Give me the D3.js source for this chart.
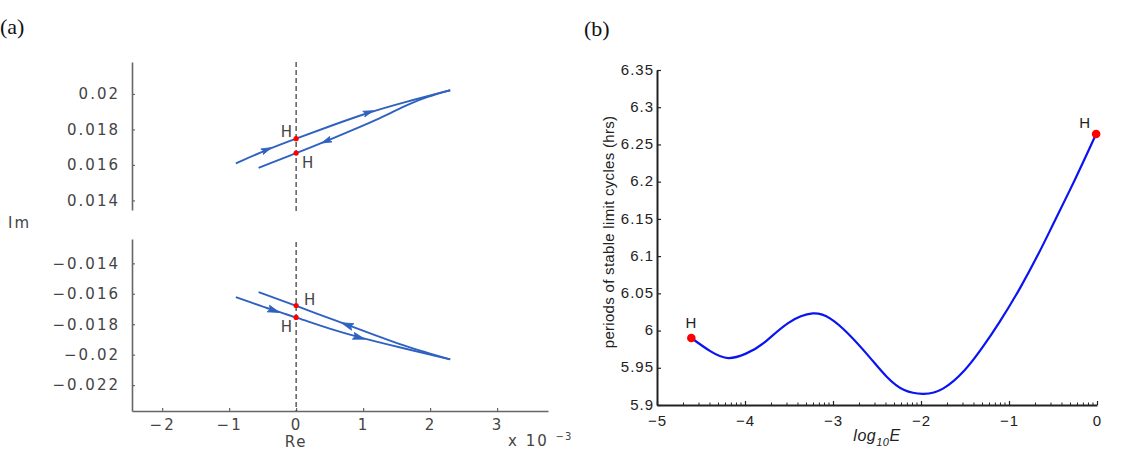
<!DOCTYPE html>
<html>
<head>
<meta charset="utf-8">
<script src="https://cdn.jsdelivr.net/npm/d3@7"></script>
<style>
  html, body { margin: 0; padding: 0; background: #fff; }
  svg { display: block; }
  .pa text { font-family: "DejaVu Sans", sans-serif; font-size: 15px; letter-spacing: 2px; fill: #444; }
  .pb text { font-family: "Liberation Sans", Arial, sans-serif; font-size: 15px; letter-spacing: 1px; fill: #222; }
</style>
</head>
<body>
<svg id="chart" width="1128" height="452"></svg>
<script>
// ---------------- DATA ----------------
// Panel (a): eigenvalue paths (Re in units of 1e-3)
const topFwdRe  = [-0.90, -0.44, 0.00, 0.50, 1.08, 1.62, 2.30];
const topFwdIm  = [0.01609, 0.01686, 0.01748, 0.01818, 0.01896, 0.01954, 0.02021];
const topBackRe = [2.30, 1.95, 1.70, 1.45, 1.20, 0.90, 0.39, 0.00, -0.56];
const topBackIm = [0.02021, 0.01983, 0.01945, 0.01900, 0.01854, 0.01805, 0.01725, 0.01667, 0.01584];
const topHopfRe = [0, 0];
const topHopfIm = [0.01748, 0.01667];
const topArrowFwdRe  = [-0.44, 1.08];
const topArrowBackRe = [0.45];

const botFwdRe  = [-0.90, -0.33, 0.00, 0.50, 0.94, 1.62, 2.30];
const botFwdIm  = [-0.01622, -0.01710, -0.01755, -0.01830, -0.01887, -0.01960, -0.02031];
const botBackRe = [2.30, 1.90, 1.62, 1.20, 0.76, 0.00, -0.56];
const botBackIm = [-0.02031, -0.01980, -0.01943, -0.01875, -0.01804, -0.01679, -0.01589];
const botHopfRe = [0, 0];
const botHopfIm = [-0.01677, -0.01755];
const botArrowFwdRe  = [-0.33, 0.94];
const botArrowBackRe = [0.76];

const reTicks     = [-2, -1, 0, 1, 2, 3];
const topImTicks  = [0.014, 0.016, 0.018, 0.02];
const botImTicks  = [-0.022, -0.02, -0.018, -0.016, -0.014];

// Panel (b): period of stable limit cycles vs log10 E
const logE   = [-4.61, -4.39, -4.19, -3.99, -3.79, -3.51, -3.23, -3.03, -2.83, -2.59, -2.39, -2.19, -1.97, -1.75, -1.51, -1.31, -1.11, -0.87, -0.67, -0.51, -0.25, -0.01];
const period = [5.990, 5.972, 5.963, 5.969, 5.983, 6.010, 6.023, 6.016, 5.996, 5.965, 5.938, 5.920, 5.915, 5.922, 5.946, 5.976, 6.011, 6.058, 6.102, 6.140, 6.203, 6.264];
const hopfLogE   = [-4.61, -0.01];
const hopfPeriod = [5.990, 6.264];
const logETicks   = [-5, -4, -3, -2, -1, 0];
const periodTicks = [5.9, 5.95, 6, 6.05, 6.1, 6.15, 6.2, 6.25, 6.3, 6.35];

// ---------------- DRAW ----------------
const svg = d3.select("#chart");
svg.append("rect").attr("width", 1128).attr("height", 452).attr("fill", "#fff");

const minus = s => String(s).replace("-", "\u2212");

// Panel labels
svg.append("text").attr("x", 0).attr("y", 34).text("(a)")
  .style("font-family", "'Liberation Serif', 'Times New Roman', serif").style("font-size", "22px").attr("fill", "#111");
svg.append("text").attr("x", 584).attr("y", 36).text("(b)")
  .style("font-family", "'Liberation Serif', 'Times New Roman', serif").style("font-size", "22px").attr("fill", "#111");

// ---------- Panel (a) ----------
const pa = svg.append("g").attr("class", "pa");
const lineColA = "#2f62c0";
const axisColA = "#666";

const xRe = d3.scaleLinear().domain([-2.45, 3.76]).range([132, 548]);
const yTop = d3.scaleLinear().domain([0.01346, 0.0218]).range([210, 62]);
const yBot = d3.scaleLinear().domain([-0.0237, -0.0124]).range([411, 239]);

function styleAxis(g, col) {
  g.select(".domain").attr("stroke", col).attr("stroke-width", 1.6);
  g.selectAll(".tick line").attr("stroke", col).attr("stroke-width", 1.2);
  g.selectAll(".tick text").attr("fill", null);
}

const gTopY = pa.append("g").attr("transform", `translate(${xRe.range()[0]},0)`)
  .call(d3.axisLeft(yTop).tickValues(topImTicks).tickSize(-3).tickSizeOuter(0).tickPadding(12)
        .tickFormat(d => minus(d3.format("")(+d.toFixed(3)))));
styleAxis(gTopY, axisColA);

const gBotY = pa.append("g").attr("transform", `translate(${xRe.range()[0]},0)`)
  .call(d3.axisLeft(yBot).tickValues(botImTicks).tickSize(-3).tickSizeOuter(0).tickPadding(12)
        .tickFormat(d => minus(d3.format("")(+d.toFixed(3)))));
styleAxis(gBotY, axisColA);

const gBotX = pa.append("g").attr("transform", `translate(0,${yBot.range()[0]})`)
  .call(d3.axisBottom(xRe).tickValues(reTicks).tickSize(-3).tickSizeOuter(0).tickPadding(8)
        .tickFormat(d => minus(d)));
styleAxis(gBotX, axisColA);

// dashed Re = 0 lines
pa.append("line").attr("x1", xRe(0)).attr("x2", xRe(0)).attr("y1", 62).attr("y2", 214)
  .attr("stroke", "#333").attr("stroke-width", 1.2).attr("stroke-dasharray", "5,3");
pa.append("line").attr("x1", xRe(0)).attr("x2", xRe(0)).attr("y1", 242).attr("y2", 411)
  .attr("stroke", "#333").attr("stroke-width", 1.2).attr("stroke-dasharray", "5,3");

const lineGen = (xs, ys) => d3.line().curve(d3.curveBasis)
  .x(d => xs(d[0])).y(d => ys(d[1]));

function drawBranch(res, ims, ys) {
  const pts = res.map((r, i) => [r, ims[i]]);
  pa.append("path").attr("d", lineGen(xRe, ys)(pts))
    .attr("fill", "none").attr("stroke", lineColA).attr("stroke-width", 1.9);
}
function drawArrows(res, ims, ys, arrowRes, len, wid) {
  arrowRes.forEach(r => {
    for (let i = 0; i < res.length - 1; i++) {
      const a = res[i], b = res[i + 1];
      if ((r - a) * (r - b) <= 0 && a !== b) {
        const t = (r - a) / (b - a);
        const x0 = xRe(a), y0 = ys(ims[i]), x1 = xRe(b), y1 = ys(ims[i + 1]);
        const px = x0 + t * (x1 - x0), py = y0 + t * (y1 - y0);
        const ang = Math.atan2(y1 - y0, x1 - x0) * 180 / Math.PI;
        pa.append("path")
          .attr("d", `M${len/2},0 L${-len/2},${-wid/2} L${-len/2 + 2},0 L${-len/2},${wid/2} Z`)
          .attr("transform", `translate(${px},${py}) rotate(${ang})`)
          .attr("fill", lineColA).attr("stroke", lineColA).attr("stroke-width", 0.8);
        break;
      }
    }
  });
}

drawBranch(topFwdRe, topFwdIm, yTop);
drawBranch(topBackRe, topBackIm, yTop);
drawArrows(topFwdRe, topFwdIm, yTop, topArrowFwdRe, 10, 6);
drawArrows(topBackRe, topBackIm, yTop, topArrowBackRe, 10, 6);

drawBranch(botFwdRe, botFwdIm, yBot);
drawBranch(botBackRe, botBackIm, yBot);
drawArrows(botFwdRe, botFwdIm, yBot, botArrowFwdRe, 12, 7);
drawArrows(botBackRe, botBackIm, yBot, botArrowBackRe, 12, 7);

// Hopf points
topHopfRe.forEach((r, i) => pa.append("circle").attr("cx", xRe(r)).attr("cy", yTop(topHopfIm[i])).attr("r", 2.6).attr("fill", "#f00"));
botHopfRe.forEach((r, i) => pa.append("circle").attr("cx", xRe(r)).attr("cy", yBot(botHopfIm[i])).attr("r", 2.6).attr("fill", "#f00"));

// H labels (a)
pa.append("text").attr("x", xRe(0) - 2).attr("y", yTop(topHopfIm[0]) - 2).attr("text-anchor", "end").text("H");
pa.append("text").attr("x", xRe(0) + 6).attr("y", yTop(topHopfIm[1]) + 15).text("H");
pa.append("text").attr("x", xRe(0) + 8).attr("y", yBot(botHopfIm[0]) - 1).text("H");
pa.append("text").attr("x", xRe(0) - 2).attr("y", yBot(botHopfIm[1]) + 15).attr("text-anchor", "end").text("H");

// axis titles (a)
pa.append("text").attr("x", 8).attr("y", 228).text("Im");
pa.append("text").attr("x", xRe(0)).attr("y", 447).attr("text-anchor", "middle").text("Re");
const mult = pa.append("text").attr("x", 508).attr("y", 446);
mult.append("tspan").text("x 10 ");
mult.append("tspan").attr("dy", -6).style("font-size", "10px").style("letter-spacing", "1px").text("\u22123");

// ---------- Panel (b) ----------
const pb = svg.append("g").attr("class", "pb");
const xE = d3.scaleLinear().domain([-5, 0]).range([657, 1097]);
const yP = d3.scaleLinear().domain([5.9, 6.35]).range([405, 70]);

const gBY = pb.append("g").attr("transform", `translate(${xE.range()[0]},0)`)
  .call(d3.axisLeft(yP).tickValues(periodTicks).tickSize(-4).tickSizeOuter(0).tickPadding(3)
        .tickFormat(d => String(+d.toFixed(2))));
styleAxis(gBY, "#222");
gBY.select(".domain").attr("stroke-width", 2);
gBY.selectAll(".tick text").attr("dy", "0.28em");

const gBX = pb.append("g").attr("transform", `translate(0,${yP.range()[0]})`)
  .call(d3.axisBottom(xE).tickValues(logETicks).tickSize(-4).tickSizeOuter(0).tickPadding(10)
        .tickFormat(d => minus(d)));
styleAxis(gBX, "#222");
gBX.select(".domain").attr("stroke-width", 2);

// minor log ticks
const minorTicks = [];
logETicks.slice(0, -1).forEach(d => { for (let k = 2; k <= 9; k++) minorTicks.push(d + Math.log10(k)); });
pb.append("g").selectAll("line").data(minorTicks).join("line")
  .attr("x1", d => xE(d)).attr("x2", d => xE(d))
  .attr("y1", yP.range()[0]).attr("y2", yP.range()[0] - 2.5)
  .attr("stroke", "#222").attr("stroke-width", 1);

pb.append("path")
  .attr("d", d3.line().curve(d3.curveNatural).x((d, i) => xE(logE[i])).y(d => yP(d))(period))
  .attr("fill", "none").attr("stroke", "#0a14f0").attr("stroke-width", 2.2);

hopfLogE.forEach((e, i) => pb.append("circle").attr("cx", xE(e)).attr("cy", yP(hopfPeriod[i])).attr("r", 4.3).attr("fill", "#f00"));
pb.append("text").attr("x", xE(hopfLogE[0])).attr("y", yP(hopfPeriod[0]) - 10).attr("text-anchor", "middle").text("H");
pb.append("text").attr("x", xE(hopfLogE[1]) - 5).attr("y", yP(hopfPeriod[1]) - 6).attr("text-anchor", "end").text("H");

pb.append("text").attr("transform", `translate(614,232) rotate(-90)`)
  .attr("text-anchor", "middle").style("font-size", "15px").style("letter-spacing", "0.3px")
  .text("periods of stable limit cycles (hrs)");

const xl = pb.append("text").attr("x", 877).attr("y", 441).attr("text-anchor", "middle")
  .style("font-style", "italic").style("font-size", "16px").style("letter-spacing", "0.5px");
xl.append("tspan").text("log");
xl.append("tspan").attr("dy", 5).style("font-size", "11px").text("10");
xl.append("tspan").attr("dy", -5).text("E");
</script>
</body>
</html>
